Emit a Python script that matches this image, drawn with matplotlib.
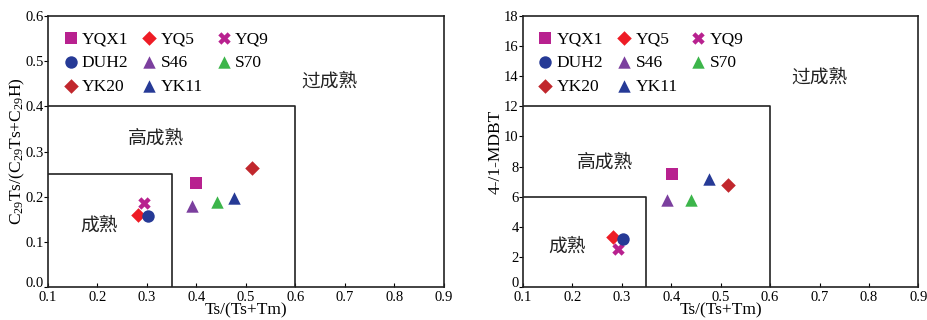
import matplotlib
matplotlib.use("Agg")
import matplotlib.pyplot as plt
from matplotlib.transforms import ScaledTranslation

plt.rcParams['font.family'] = ['Liberation Serif', 'Noto Sans CJK SC']
plt.rcParams['mathtext.fontset'] = 'custom'
plt.rcParams['mathtext.rm'] = 'Liberation Serif'
plt.rcParams['mathtext.it'] = 'Liberation Serif:italic'

# sample names and styles
samples = ["YQX1", "YQ5", "YQ9", "DUH2", "S46", "S70", "YK20", "YK11"]
markers = ["s", "D", "X", "o", "^", "^", "D", "^"]
colors = ["#b8218f", "#ee1c25", "#b8218f", "#263a96", "#7b3f9e", "#3cb54a", "#c1272d", "#263a96"]
sizes = [80, 55, 80, 80, 80, 80, 55, 80]

# Ts/(Ts+Tm)
ts_tm = [0.400, 0.281, 0.293, 0.303, 0.390, 0.441, 0.513, 0.476]
# C29Ts/(C29Ts+C29H)
c29ts = [0.231, 0.160, 0.185, 0.157, 0.179, 0.188, 0.263, 0.198]

# second panel
ts_tm_b = [0.402, 0.282, 0.292, 0.303, 0.391, 0.441, 0.515, 0.476]
mdbt = [7.50, 3.30, 2.52, 3.19, 5.78, 5.78, 6.79, 7.15]

zone_names = ["成熟", "高成熟", "过成熟"]

# legend fills column by column, so reorder to read row by row
legend_order = [0, 3, 6, 1, 4, 7, 2, 5]

fig = plt.figure(figsize=(9.27, 3.2), dpi=100)
ax1 = fig.add_axes([0.0518, 0.103, 0.427, 0.847])
ax2 = fig.add_axes([0.564, 0.103, 0.4268, 0.847])


def draw_panel(ax, xs, ys, ymax, ystep, mature, high, label_pos, ylabel, yfmt, ypad):
    handles = []
    for name, m, c, s, x, y in zip(samples, markers, colors, sizes, xs, ys):
        h = ax.scatter(x, y, marker=m, color=c, s=s, label=name, zorder=3,
                       linewidths=0)
        handles.append(h)
    # maturity boxes
    ax.plot([0.1, 0.35, 0.35], [mature, mature, 0], color="#222222", lw=1.2)
    ax.plot([0.1, 0.6, 0.6], [high, high, 0], color="#222222", lw=1.2)
    for txt, (tx, ty) in zip(zone_names, label_pos):
        ax.text(tx, ty, txt, fontsize=13.5, ha="center", va="center",
                family=['Noto Sans CJK SC'], fontweight='light', color="#222222")
    ax.set_xlim(0.1, 0.9)
    ax.set_ylim(0, ymax)
    ax.set_xticks([0.1 + 0.1 * i for i in range(9)])
    ax.set_xticklabels(["0.1", "0.2", "0.3", "0.4", "0.5", "0.6", "0.7", "0.8", "0.9"])
    yt = [ystep * i for i in range(int(round(ymax / ystep)) + 1)]
    ax.set_yticks(yt)
    ax.set_yticklabels([yfmt.format(v) for v in yt])
    ax.tick_params(axis="x", direction="in", length=3, pad=3, labelsize=10.5)
    ax.tick_params(axis="y", direction="out", length=3, pad=0, labelsize=10.5)
    # lift the bottom y label clear of the first x label
    lbl0 = ax.yaxis.get_major_ticks()[0].label1
    lbl0.set_transform(lbl0.get_transform() +
                       ScaledTranslation(0, 3.5 / 72, fig.dpi_scale_trans))
    for sp in ax.spines.values():
        sp.set_color("#222222")
        sp.set_linewidth(1.2)
    ax.set_xlabel("Ts/(Ts+Tm)", fontsize=12.5, labelpad=-1)
    ax.set_ylabel(ylabel, fontsize=12.5, labelpad=ypad)
    ax.legend([handles[i] for i in legend_order], [samples[i] for i in legend_order],
              loc="upper left", ncol=3, frameon=False, fontsize=12.5,
              handletextpad=0.05, columnspacing=0.6, labelspacing=0.45,
              handlelength=1.2, borderaxespad=0.3, bbox_to_anchor=(0.0, 0.99))


draw_panel(ax1, ts_tm, c29ts, 0.6, 0.1, 0.25, 0.4,
           [(0.203, 0.136), (0.318, 0.329), (0.668, 0.455)],
           r"C$_{29}$Ts/(C$_{29}$Ts+C$_{29}$H)", "{:.1f}", -1)
draw_panel(ax2, ts_tm_b, mdbt, 18, 2, 6, 12,
           [(0.190, 2.68), (0.266, 8.32), (0.699, 13.96)],
           "4-/1-MDBT", "{:.0f}", 0)

fig.savefig("out.png", dpi=100)
